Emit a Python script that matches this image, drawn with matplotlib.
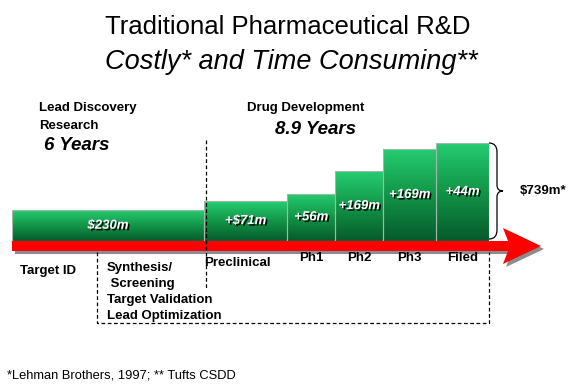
import numpy as np
import matplotlib
matplotlib.use("Agg")
import matplotlib.pyplot as plt
import matplotlib.patheffects as pe
from matplotlib.patches import Polygon, PathPatch
from matplotlib.path import Path
from matplotlib.colors import LinearSegmentedColormap
import matplotlib.transforms as mtrans

plt.rcParams['font.family'] = ['Liberation Sans', 'DejaVu Sans']

# data: phase durations (years) and costs ($m)
phases = ['Research', 'Preclinical', 'Ph1', 'Ph2', 'Ph3', 'Filed']
years = [6.0, 2.6, 1.5, 1.5, 1.65, 1.65]
costs = [230, 71, 56, 169, 169, 44]
cost_labels = ['$230m', '+$71m', '+56m', '+169m', '+169m', '+44m']
total_label = '$739m*'

lefts = np.concatenate([[0], np.cumsum(years)[:-1]])
tops = np.cumsum(costs)

fig = plt.figure(figsize=(5.76, 3.84), dpi=100)
fig.patch.set_facecolor('white')

# pixel axes for decoration
deco = fig.add_axes([0, 0, 1, 1], zorder=2)
deco.set_xlim(0, 576)
deco.set_ylim(384, 0)
deco.axis('off')
deco.patch.set_alpha(0)

# bar axes: years vs cost
ax = fig.add_axes([12/576, 1-241/384, 477/576, 98/384], zorder=1)
ax.axis('off')

green = LinearSegmentedColormap.from_list('g', ['#065a2b', '#129548', '#26cd72'])
grad = np.linspace(0, 1, 256).reshape(-1, 1)
bars = ax.bar(lefts, tops, width=years, align='edge', facecolor='none',
              edgecolor='#9fb8a8', lw=0.8, zorder=3)
for b in bars:
    x0, y0, w, h = b.get_x(), b.get_y(), b.get_width(), b.get_height()
    im = ax.imshow(grad, cmap=green, origin='lower', aspect='auto',
                   extent=[x0, x0 + w, y0, y0 + h], zorder=2)
    im.set_clip_path(b)
ax.set_xlim(0, sum(years))
ax.set_ylim(0, tops[-1])

shadow = [pe.withSimplePatchShadow(offset=(1.2, -1.2), shadow_rgbFace='black', alpha=0.9)]
for b, lab, t in zip(bars, cost_labels, tops):
    ax.text(b.get_x() + b.get_width()/2, t/2, lab, ha='center', va='center',
            color='white', fontsize=9.5, fontweight='bold', style='italic',
            path_effects=shadow, zorder=5)

# phase labels (x from bar axes, y in pixels)
blend = mtrans.blended_transform_factory(ax.transData, deco.transData)
for i in range(2, len(phases)):
    deco.text(lefts[i] + years[i]/2, 258, phases[i], transform=blend, ha='center',
              va='center', fontsize=9.5, fontweight='bold', zorder=5)
deco.text(lefts[1], 263, phases[1], transform=blend, ha='left', va='center',
          fontsize=9.5, fontweight='bold', zorder=5)

# red arrow with shadow
arrow = [(12, 241), (508, 241), (503, 228), (541, 246), (503, 264), (508, 251), (12, 251)]
deco.add_patch(Polygon([(x + 3, y + 3) for x, y in arrow], closed=True,
                       facecolor='#8c8c8c', edgecolor='none', zorder=1))
deco.add_patch(Polygon(arrow, closed=True, facecolor='#ff0000', edgecolor='none', zorder=2))

# dashed lines
dash = dict(color='black', lw=0.9, linestyle=(0, (3, 2)))
deco.plot([206, 206], [140, 290], **dash)
deco.plot([97, 97, 489, 489], [252, 323, 323, 252], **dash)

# brace
verts = [(489, 143), (497, 143), (497, 152), (497, 185), (497, 191), (503, 191),
         (497, 191), (497, 197), (497, 230), (497, 239), (489, 239)]
codes = [Path.MOVETO, Path.CURVE3, Path.CURVE3, Path.LINETO, Path.CURVE3, Path.CURVE3,
         Path.CURVE3, Path.CURVE3, Path.LINETO, Path.CURVE3, Path.CURVE3]
deco.add_patch(PathPatch(Path(verts, codes), facecolor='none', edgecolor='black', lw=0.9))
deco.text(520, 191, total_label, ha='left', va='center', fontsize=9.5, fontweight='bold')

# titles
deco.text(288, 27, 'Traditional Pharmaceutical R&D', ha='center', va='center', fontsize=18.5)
deco.text(291, 62, 'Costly* and Time Consuming**', ha='center', va='center',
          fontsize=19.5, style='italic')

deco.text(39, 108, 'Lead Discovery', ha='left', va='center', fontsize=9.5, fontweight='bold')
deco.text(39, 126, 'Research', ha='left', va='center', fontsize=9.5, fontweight='bold')
deco.text(44, 146, '6 Years', ha='left', va='center', fontsize=13.5,
          fontweight='bold', style='italic')
deco.text(247, 108, 'Drug Development', ha='left', va='center', fontsize=9.5, fontweight='bold')
deco.text(275, 129, '8.9 Years', ha='left', va='center', fontsize=13.5,
          fontweight='bold', style='italic')

deco.text(20, 271, 'Target ID', ha='left', va='center', fontsize=9.5, fontweight='bold')
for y, s in zip([268, 284, 300, 316],
                ['Synthesis/', ' Screening', 'Target Validation', 'Lead Optimization']):
    deco.text(107, y, s, ha='left', va='center', fontsize=9.5, fontweight='bold')

deco.text(7, 375, '*Lehman Brothers, 1997; ** Tufts CSDD', ha='left', va='center', fontsize=9.3)

fig.savefig('out.png', dpi=100)
